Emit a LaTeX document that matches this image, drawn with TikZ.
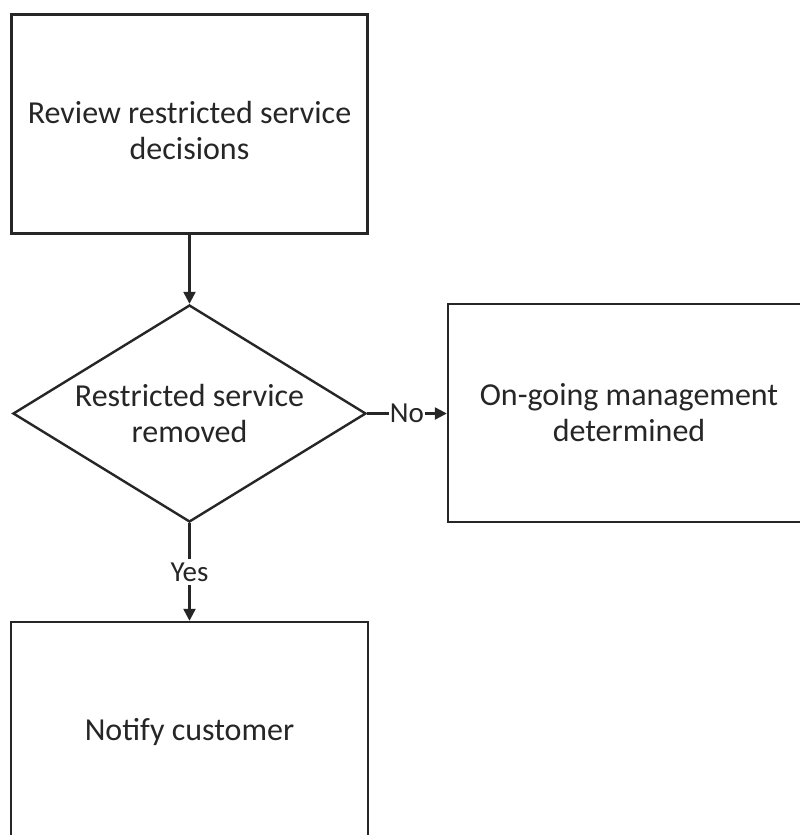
\documentclass[tikz,border=0pt]{standalone}
\usepackage{fontspec}
\setmainfont{Carlito}
\usetikzlibrary{shapes.geometric,arrows.meta}
\begin{document}
\begin{tikzpicture}[x=1pt,y=-1pt,
  box/.style={draw=black!85, line width=2.4pt, inner sep=0pt, align=center,
    font=\fontsize{32}{36}\selectfont, text=black!85},
  dec/.style={diamond, draw=black!85, line width=2.4pt, inner sep=0pt, align=center,
    shape aspect=1.63, minimum width=353pt, minimum height=217pt,
    font=\fontsize{32}{36}\selectfont, text=black!85},
  arr/.style={draw=black!85, line width=2.4pt, -{Triangle[length=12pt,width=12pt]}},
  lbl/.style={fill=white, inner sep=2pt, font=\fontsize{29}{33}\selectfont, text=black!85}]
\useasboundingbox (0,0) rectangle (800,835);
\clip (0,0) rectangle (800,835);
\fill[white] (0,0) rectangle (800,835);
\node[box, minimum width=356pt, minimum height=219pt] (b1) at (189.5,124)
  {\rule{0pt}{36pt}Review restricted service\\decisions};
\node[dec] (d) at (189.5,413.5) {Restricted service\\removed};
\node[box, minimum width=362pt, minimum height=218pt] (b2) at (629,413)
  {On-going management\\determined};
\node[box, minimum width=357pt, minimum height=220pt] (b3) at (189.5,732)
  {Notify customer};
\draw[arr] (b1) -- (d);
\draw[arr] (d.east) -- node[lbl, inner xsep=1pt] {No} (b2.west |- d.east);
\draw[arr] (d.south) -- node[lbl, inner ysep=4pt] {Yes} (b3.north);
\end{tikzpicture}
\end{document}
